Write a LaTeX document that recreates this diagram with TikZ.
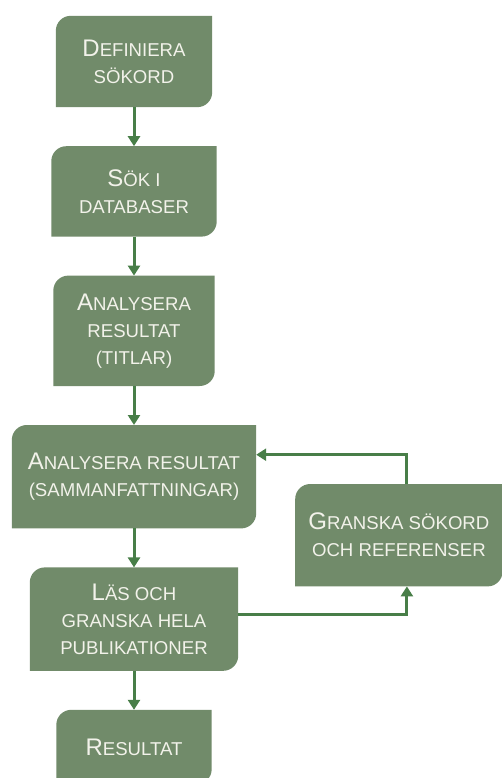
\documentclass[tikz,border=0pt]{standalone}
\usepackage{fontspec}
\setmainfont{Liberation Sans}
\usetikzlibrary{positioning, arrows.meta, backgrounds}
\definecolor{boxgreen}{RGB}{113,139,106}
\definecolor{arrowgreen}{RGB}{72,126,72}
\definecolor{boxtext}{RGB}{242,242,234}
\newcommand{\initial}[1]{{\fontsize{24}{27}\selectfont #1}}

\begin{document}
\begin{tikzpicture}[
    node distance=39pt and 39pt,
    box/.style={rectangle, inner sep=0pt, align=center, text=boxtext, font=\fontsize{18.6}{27}\selectfont},
    arrow/.style={-{Triangle[width=12pt, length=10pt]}, line width=3pt, draw=arrowgreen}
]
\useasboundingbox (0,0) rectangle (502pt,-778pt);

% Nodes
\node[box, minimum width=156pt, minimum height=91pt] (def) at (134pt,-61.5pt) {\initial{D}EFINIERA\\SÖKORD};
\node[box, minimum width=165pt, minimum height=90pt, below=of def] (sok) {\initial{S}ÖK I\\DATABASER};
\node[box, minimum width=161pt, minimum height=110pt, below=of sok] (tit) {\initial{A}NALYSERA\\RESULTAT\\(TITLAR)};
\node[box, minimum width=244pt, minimum height=103pt, below=of tit] (sam) {\initial{A}NALYSERA RESULTAT\\(SAMMANFATTNINGAR)};
\node[box, minimum width=207pt, minimum height=102pt, right=of sam, yshift=-58.5pt] (gra) {\initial{G}RANSKA SÖKORD\\OCH REFERENSER};
\node[box, minimum width=208pt, minimum height=103pt, below=of sam] (las) {\initial{L}ÄS OCH\\GRANSKA HELA\\PUBLIKATIONER};
\node[box, minimum width=155pt, minimum height=74pt, below=of las] (res) {\initial{R}ESULTAT};

% Box shapes: round top left and bottom right corners
\begin{scope}[on background layer]
\foreach \n in {def, sok, tit, sam, gra, las, res}
  \fill[boxgreen] (\n.south west) -- ([yshift=-15pt]\n.north west) arc[start angle=180, end angle=90, radius=15pt]
    -- (\n.north east) -- ([yshift=15pt]\n.south east) arc[start angle=0, end angle=-90, radius=15pt] -- cycle;
\end{scope}

% Edges
\draw[arrow] (def) -- (sok);
\draw[arrow] (sok) -- (tit);
\draw[arrow] (tit) -- (sam);
\draw[arrow] (sam) -- (las);
\draw[arrow] (las) -- (res);
\draw[arrow] ([yshift=5pt]las.east) -| ([xshift=8pt]gra.south);
\draw[arrow] ([xshift=8pt]gra.north) |- ([yshift=22pt]sam.east);

\end{tikzpicture}
\end{document}
